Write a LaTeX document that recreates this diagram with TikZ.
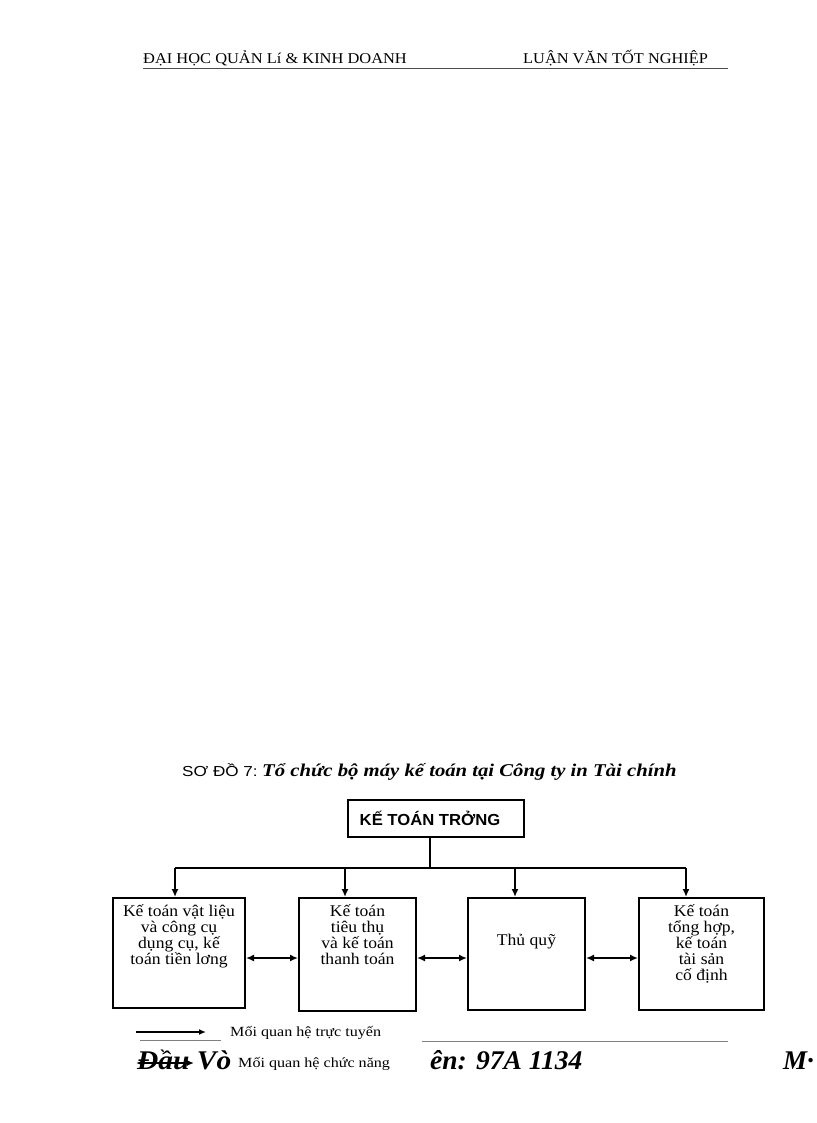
\documentclass[tikz,border=0pt]{standalone}
\usepackage{fontspec}
\setmainfont{Liberation Serif}
\newfontfamily\arialf{Liberation Sans}
\usetikzlibrary{arrows.meta}
\newcommand\fsz[3]{\fontsize{#1}{#2}\selectfont\addfontfeature{FakeStretch=#3}}
\begin{document}
\begin{tikzpicture}[x=1pt,y=-1pt,
  boxs/.style={draw,line width=2pt,minimum width=#1,minimum height=110pt,inner sep=0pt},
  boxtxt/.style={anchor=north,align=center,inner sep=0pt,font=\fsz{16.3}{16}{1.08}},
  conn/.style={line width=2pt},
  arr/.style={line width=2pt,-{Latex[length=8pt,width=7pt]}},
  darr/.style={line width=2pt,{Latex[length=8pt,width=7pt]}-{Latex[length=8pt,width=7pt]}},
  thin/.style={line width=0.9pt,gray}]
\useasboundingbox (0,0) rectangle (816,1123);
% header
\node[anchor=base west,inner sep=0pt,font=\fsz{15}{15}{1.095}] (h1) at (143,64) {ĐẠI HỌC QUẢN Lí \& KINH DOANH};
\node[anchor=base west,inner sep=0pt,font=\fsz{15}{15}{1.09}] (h2) at (523,64) {LUẬN VĂN TỐT NGHIỆP};
\coordinate (hl1) at (143,68.5);
\coordinate (hl2) at (728,68.5);
\draw[line width=1pt,black!70] (hl1) -- (hl2);
% caption
\node[anchor=base west,inner sep=0pt,font=\arialf\fsz{14.5}{14}{1.18}] (cap1) at (182,776) {SƠ ĐỒ 7:};
\node[anchor=base west,inner sep=0pt,font=\bfseries\itshape\fsz{18}{18}{1.15}] (cap2) at (262,776) {Tổ chức bộ máy kế toán tại Công ty in Tài chính};
% top box
\node[draw,line width=2pt,minimum width=176pt,minimum height=37pt,inner sep=0pt,font=\arialf\bfseries\fsz{16}{16}{1.04}] (top) at (436,818.5) {KẾ TOÁN TRỞNG\kern12pt};
% boxes
\node[boxs=132pt] (b1) at (179,953) {};
\node[boxs=117pt,minimum height=113pt] (b2) at (357.5,954.5) {};
\node[boxs=117pt,minimum height=112pt] (b3) at (526.5,954) {};
\node[boxs=125pt,minimum height=112pt] (b4) at (701.5,954) {};
\node[boxtxt] (t1) at (179,904) {Kế toán vật liệu\\và công cụ\\dụng cụ, kế\\toán tiền lơng};
\node[boxtxt] (t2) at (357.5,904) {Kế toán\\tiêu thụ\\và kế toán\\thanh toán};
\node[boxtxt] (t3) at (526.5,934) {Thủ quỹ};
\node[boxtxt] (t4) at (701.5,904) {Kế toán\\tổng hợp,\\kế toán\\tài sản\\cố định};
% bus
\coordinate (bus) at (430,868);
\coordinate (j1) at (175,868);
\coordinate (j2) at (345,868);
\coordinate (j3) at (515,868);
\coordinate (j4) at (686,868);
\draw[conn] (top.south -| bus) -- (bus);
\draw[conn] (j1) -- (j4);
\draw[arr] (j1) -- (j1 |- b1.north);
\draw[arr] (j2) -- (j2 |- b2.north);
\draw[arr] (j3) -- (j3 |- b3.north);
\draw[arr] (j4) -- (j4 |- b4.north);
% functional links
\coordinate (m) at (0,958);
\draw[darr] (b1.east |- m) -- (b2.west |- m);
\draw[darr] (b2.east |- m) -- (b3.west |- m);
\draw[darr] (b3.east |- m) -- (b4.west |- m);
% legend
\coordinate (la1) at (136,1032);
\coordinate (la2) at (206,1032);
\draw[line width=1.6pt,-{Latex[length=7pt,width=6pt]}] (la1) -- (la2);
\coordinate (lu1) at (140,1040.5);
\coordinate (lu2) at (221,1040.5);
\draw[thin] (lu1) -- (lu2);
\node[anchor=base west,inner sep=0pt,font=\fsz{14}{14}{1.15}] (lt1) at (230,1036) {Mối quan hệ trực tuyến};
\coordinate (rl1) at (422,1041);
\coordinate (rl2) at (728,1041);
\draw[thin] (rl1) -- (rl2);
% bottom line
\node[anchor=base west,inner sep=0pt,font=\bfseries\itshape\fsz{27}{27}{1.09}] (dv) at (137,1069) {Đầu Vò};
\coordinate (ld1) at (136,1063);
\coordinate (ld2) at (194,1063);
\draw[line width=1.4pt,{Latex[length=7pt,width=6pt]}-{Latex[length=7pt,width=6pt]}] (ld1) -- (ld2);
\node[anchor=base west,inner sep=0pt,font=\fsz{14}{14}{1.15}] (lt2) at (238,1067) {Mối quan hệ chức năng};
\node[anchor=base west,inner sep=0pt,font=\bfseries\itshape\fsz{27}{27}{1.02}] (num) at (430,1069) {ên: 97A 1134};
\node[anchor=base west,inner sep=0pt,font=\bfseries\itshape\fsz{27}{27}{1.0}] (mm) at (783,1069) {M·};
\end{tikzpicture}
\end{document}
